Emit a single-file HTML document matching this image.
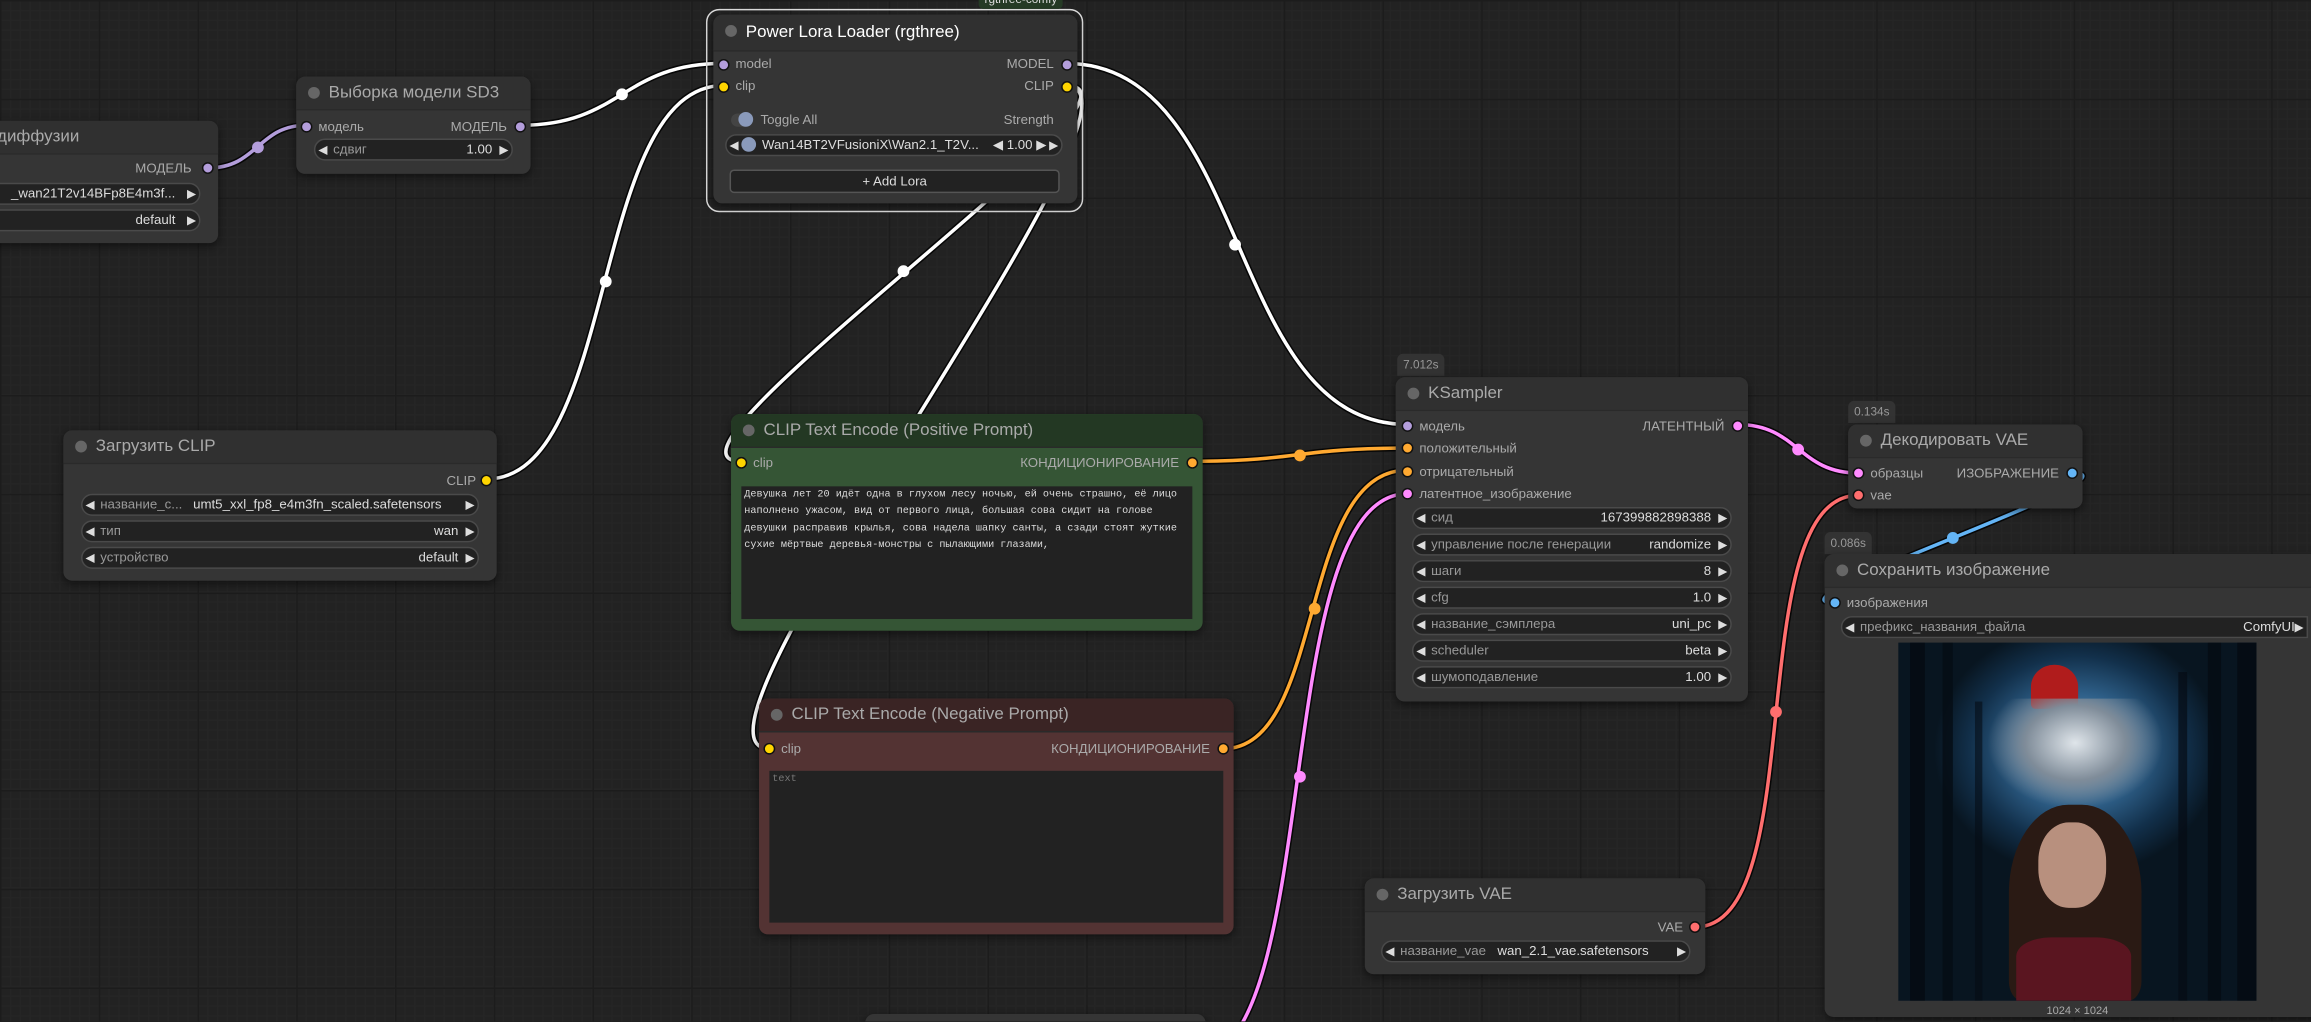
<!DOCTYPE html>
<html><head><meta charset="utf-8">
<style>
html,body{margin:0;padding:0;width:2311px;height:1022px;overflow:hidden;background:#202020}
#w{position:absolute;left:0;top:0;width:1568px;height:693px;transform:scale(1.47385);transform-origin:0 0;
background-color:#222;
background-image:linear-gradient(#1c1c1c 1px,transparent 1px),linear-gradient(90deg,#1c1c1c 1px,transparent 1px),linear-gradient(#252525 1px,transparent 1px),linear-gradient(90deg,#252525 1px,transparent 1px);
background-size:67px 67px,67px 67px,6.7px 6.7px,6.7px 6.7px;
font-family:"Liberation Sans","DejaVu Sans",sans-serif;overflow:hidden}
svg{position:absolute;left:0;top:0}
.n{position:absolute;background:#353535;border-radius:6px;box-shadow:0 2px 6px rgba(0,0,0,.5)}
.t{position:absolute;left:0;right:0;top:0;height:22px;background:#303030;border-radius:6px 6px 0 0;border-bottom:1px solid #2a2a2a;color:#aaa;font-size:11.5px;line-height:22px;padding-left:22px;white-space:nowrap}
.t:before{content:"";position:absolute;left:8px;top:7px;width:8px;height:8px;border-radius:50%;background:#666}
.s{position:absolute;font-size:9px;color:#aaa;white-space:nowrap;line-height:10px}
.d{position:absolute;width:6px;height:6px;border-radius:50%;border:1px solid #111}
.wd{position:absolute;height:13px;background:#222;border:1px solid #4a4a4a;border-radius:8px;font-size:9px;line-height:13px;color:#999;white-space:nowrap;overflow:hidden}
.wd .l{position:absolute;left:12px}
.wd .v{position:absolute;right:13px;color:#ddd}
.wd:before{content:"◀";position:absolute;left:2px;font-size:8px;color:#ddd}
.wd:after{content:"▶";position:absolute;right:2px;font-size:8px;color:#ddd}
.bd{position:absolute;background:#333;color:#999;font-size:8px;border-radius:4px 4px 0 0;padding:0 4px;line-height:15px;height:15px}
.ta{position:absolute;background:#222;font-family:"Liberation Mono","DejaVu Sans Mono",monospace;font-size:6.9px;line-height:11.3px;color:#ddd;padding:1px 2px;box-sizing:border-box}
.tr{position:absolute;background:#050c14}
</style></head><body><div id="w">
<svg width="1568" height="693" viewBox="0 0 1568 693" fill="none" stroke-linecap="round">
<g stroke="#000" stroke-width="4.5" opacity=".8">
<path d="M141,114 C175,114 175,85 208,85"/>
<path d="M353,85 C422,85 422,43 491,43"/>
<path d="M330,325 C420,325 400,58 491,58"/>
<path d="M723,43 C850,43 830,288 955,288"/>
<path d="M723,58 C800,58 426,313 503,313"/>
<path d="M723,58 C800,58 445,508 522,508"/>
<path d="M809,313 C880,313 880,304 955,304"/>
<path d="M830,508 C900,508 880,319 955,319"/>
<path d="M1179,288 C1220,288 1220,321 1261,321"/>
<path d="M809,719 C900,719 860,335 955,335"/>
<path d="M1150,629 C1230,629 1180,336 1261,336"/>
<path d="M1406,321 C1460,321 1190,409 1245,409"/>
</g>
<g stroke-width="2.4">
<path stroke="#b39ddb" d="M141,114 C175,114 175,85 208,85"/>
<path stroke="#fff" d="M353,85 C422,85 422,43 491,43"/>
<path stroke="#fff" d="M330,325 C420,325 400,58 491,58"/>
<path stroke="#fff" d="M723,43 C850,43 830,288 955,288"/>
<path stroke="#fff" d="M723,58 C800,58 426,313 503,313"/>
<path stroke="#fff" d="M723,58 C800,58 445,508 522,508"/>
<path stroke="#ffa931" d="M809,313 C880,313 880,304 955,304"/>
<path stroke="#ffa931" d="M830,508 C900,508 880,319 955,319"/>
<path stroke="#ff8aff" d="M1179,288 C1220,288 1220,321 1261,321"/>
<path stroke="#ff8aff" d="M809,719 C900,719 860,335 955,335"/>
<path stroke="#ff6e6e" d="M1150,629 C1230,629 1180,336 1261,336"/>
<path stroke="#64b5f6" d="M1406,321 C1460,321 1190,409 1245,409"/>
</g>
<g stroke="none">
<circle cx="175" cy="100" r="4" fill="#b39ddb"/><circle cx="422" cy="64" r="4" fill="#fff"/>
<circle cx="411" cy="191" r="4" fill="#fff"/><circle cx="838" cy="166" r="4" fill="#fff"/>
<circle cx="613" cy="184" r="4" fill="#fff"/><circle cx="882" cy="309" r="4" fill="#ffa931"/>
<circle cx="892" cy="413" r="4" fill="#ffa931"/><circle cx="1220" cy="305" r="4" fill="#ff8aff"/>
<circle cx="882" cy="527" r="4" fill="#ff8aff"/><circle cx="1205" cy="483" r="4" fill="#ff6e6e"/>
<circle cx="1325" cy="365" r="4" fill="#64b5f6"/>
</g></svg>

<div class="n" style="left:-20px;top:82px;width:168px;height:83px"><div class="t" style="padding-left:18px">диффузии</div>
<div class="s" style="right:18px;top:27px">МОДЕЛЬ</div><div class="d" style="background:#b39ddb;right:3px;top:28px"></div>
<div class="wd" style="left:-10px;right:12px;top:42px"><span class="v" style="right:16px">_wan21T2v14BFp8E4m3f...</span></div>
<div class="wd" style="left:-10px;right:12px;top:60px"><span class="v" style="right:16px">default</span></div></div>

<div class="n" style="left:201px;top:52px;width:159px;height:66px"><div class="t">Выборка модели SD3</div>
<div class="s" style="left:15px;top:29px">модель</div><div class="d" style="background:#b39ddb;left:3px;top:30px"></div>
<div class="s" style="right:16px;top:29px">МОДЕЛЬ</div><div class="d" style="background:#b39ddb;right:3px;top:30px"></div>
<div class="wd" style="left:12px;right:12px;top:42px"><span class="l">сдвиг</span><span class="v">1.00</span></div></div>

<div style="position:absolute;left:479px;top:6px;width:254px;height:136px;border:1px solid #ddd;border-radius:9px"></div>
<div style="position:absolute;left:664px;top:-6px;height:12px;padding:0 4px;background:#253a25;color:#ddd;font-size:8px;line-height:12px;border-radius:3px">rgthree-comfy</div>
<div class="n" style="left:484px;top:10px;width:247px;height:128px"><div class="t" style="color:#fff;height:24px;line-height:24px">Power Lora Loader (rgthree)</div>
<div class="s" style="left:15px;top:28px">model</div><div class="d" style="background:#b39ddb;left:3px;top:30px"></div>
<div class="s" style="left:15px;top:43px">clip</div><div class="d" style="background:#ffd500;left:3px;top:45px"></div>
<div class="s" style="right:16px;top:28px">MODEL</div><div class="d" style="background:#b39ddb;right:3px;top:30px"></div>
<div class="s" style="right:16px;top:43px">CLIP</div><div class="d" style="background:#ffd500;right:3px;top:45px"></div>
<div style="position:absolute;left:12px;top:67px;width:14px;height:9px;border-radius:5px;background:#444"></div><div style="position:absolute;left:17px;top:66px;width:10px;height:10px;border-radius:50%;background:#8a9abb"></div>
<div class="s" style="left:32px;top:66px">Toggle All</div><div class="s" style="right:16px;top:66px">Strength</div>
<div class="wd" style="left:8px;right:10px;top:81px;color:#ddd"><span style="position:absolute;left:10px;top:1px;width:10px;height:10px;border-radius:50%;background:#8a9abb"></span><span style="position:absolute;left:24px">Wan14BT2VFusioniX\Wan2.1_T2V...</span><span class="v" style="right:10px">◀ 1.00 ▶</span></div>
<div style="position:absolute;left:11px;right:12px;top:105px;height:14px;border:1px solid #555;background:#222;border-radius:3px;color:#ddd;font-size:9px;text-align:center;line-height:14px">+ Add Lora</div></div>

<div class="n" style="left:43px;top:292px;width:294px;height:102px"><div class="t">Загрузить CLIP</div>
<div class="s" style="right:14px;top:29px">CLIP</div><div class="d" style="background:#ffd500;right:3px;top:30px"></div>
<div class="wd" style="left:12px;right:12px;top:43px"><span class="l">название_с...</span><span class="l" style="left:75px;color:#ddd">umt5_xxl_fp8_e4m3fn_scaled.safetensors</span></div>
<div class="wd" style="left:12px;right:12px;top:61px"><span class="l">тип</span><span class="v">wan</span></div>
<div class="wd" style="left:12px;right:12px;top:79px"><span class="l">устройство</span><span class="v">default</span></div></div>

<div class="n" style="left:496px;top:281px;width:320px;height:147px;background:#355535"><div class="t" style="background:#233823">CLIP Text Encode (Positive Prompt)</div>
<div class="s" style="left:15px;top:28px">clip</div><div class="d" style="background:#ffd500;left:3px;top:29px"></div>
<div class="s" style="right:16px;top:28px">КОНДИЦИОНИРОВАНИЕ</div><div class="d" style="background:#ffa931;right:3px;top:29px"></div>
<div class="ta" style="left:7px;top:49px;width:306px;height:90px">Девушка лет 20 идёт одна в глухом лесу ночью, ей очень страшно, её лицо наполнено ужасом, вид от первого лица, большая сова сидит на голове девушки расправив крылья, сова надела шапку санты, а сзади стоят жуткие сухие мёртвые деревья-монстры с пылающими глазами,</div></div>

<div class="n" style="left:515px;top:474px;width:322px;height:160px;background:#533333"><div class="t" style="background:#3a2424">CLIP Text Encode (Negative Prompt)</div>
<div class="s" style="left:15px;top:29px">clip</div><div class="d" style="background:#ffd500;left:3px;top:30px"></div>
<div class="s" style="right:16px;top:29px">КОНДИЦИОНИРОВАНИЕ</div><div class="d" style="background:#ffa931;right:3px;top:30px"></div>
<div class="ta" style="left:7px;top:49px;width:308px;height:103px;color:#777">text</div></div>

<div class="bd" style="left:948px;top:240px">7.012s</div>
<div class="n" style="left:947px;top:256px;width:239px;height:220px"><div class="t">KSampler</div>
<div class="s" style="left:16px;top:28px">модель</div><div class="d" style="background:#b39ddb;left:4px;top:29px"></div>
<div class="s" style="left:16px;top:43px">положительный</div><div class="d" style="background:#ffa931;left:4px;top:44px"></div>
<div class="s" style="left:16px;top:59px">отрицательный</div><div class="d" style="background:#ffa931;left:4px;top:60px"></div>
<div class="s" style="left:16px;top:74px">латентное_изображение</div><div class="d" style="background:#ff8aff;left:4px;top:75px"></div>
<div class="s" style="right:16px;top:28px">ЛАТЕНТНЫЙ</div><div class="d" style="background:#ff8aff;right:3px;top:29px"></div>
<div class="wd" style="left:11px;right:11px;top:88px"><span class="l">сид</span><span class="v">167399882898388</span></div>
<div class="wd" style="left:11px;right:11px;top:106px"><span class="l">управление после генерации</span><span class="v">randomize</span></div>
<div class="wd" style="left:11px;right:11px;top:124px"><span class="l">шаги</span><span class="v">8</span></div>
<div class="wd" style="left:11px;right:11px;top:142px"><span class="l">cfg</span><span class="v">1.0</span></div>
<div class="wd" style="left:11px;right:11px;top:160px"><span class="l">название_сэмплера</span><span class="v">uni_pc</span></div>
<div class="wd" style="left:11px;right:11px;top:178px"><span class="l">scheduler</span><span class="v">beta</span></div>
<div class="wd" style="left:11px;right:11px;top:196px"><span class="l">шумоподавление</span><span class="v">1.00</span></div></div>

<div class="bd" style="left:1254px;top:272px">0.134s</div>
<div class="n" style="left:1254px;top:288px;width:159px;height:57px"><div class="t">Декодировать VAE</div>
<div class="s" style="left:15px;top:28px">образцы</div><div class="d" style="background:#ff8aff;left:3px;top:29px"></div>
<div class="s" style="left:15px;top:43px">vae</div><div class="d" style="background:#ff6e6e;left:3px;top:44px"></div>
<div class="s" style="right:16px;top:28px">ИЗОБРАЖЕНИЕ</div><div class="d" style="background:#64b5f6;right:3px;top:29px"></div></div>

<div class="n" style="left:926px;top:596px;width:231px;height:65px"><div class="t">Загрузить VAE</div>
<div class="s" style="right:15px;top:28px">VAE</div><div class="d" style="background:#ff6e6e;right:3px;top:29px"></div>
<div class="wd" style="left:11px;right:10px;top:42px"><span class="l">название_vae</span><span class="l" style="left:78px;color:#ddd">wan_2.1_vae.safetensors</span></div></div>

<div class="bd" style="left:1238px;top:361px">0.086s</div>
<div class="n" style="left:1238px;top:376px;width:340px;height:314px"><div class="t">Сохранить изображение</div>
<div class="s" style="left:15px;top:28px">изображения</div><div class="d" style="background:#64b5f6;left:3px;top:29px"></div>
<div class="wd" style="left:11px;right:12px;top:42px;border-radius:8px 0 0 8px"><span class="l">префикс_названия_файла</span><span class="v" style="right:8px">ComfyUI</span></div>
<div style="position:absolute;left:50px;top:60px;width:243px;height:243px;overflow:hidden;background:radial-gradient(ellipse 40% 35% at 50% 30%,#6fa3c8,#2e5f88 45%,#12304b 75%,#081520)">
<div class="tr" style="left:8px;top:0;width:10px;height:243px"></div>
<div class="tr" style="left:30px;top:0;width:7px;height:243px;opacity:.8"></div>
<div class="tr" style="left:52px;top:40px;width:5px;height:203px;opacity:.6"></div>
<div class="tr" style="left:190px;top:20px;width:6px;height:223px;opacity:.7"></div>
<div class="tr" style="left:210px;top:0;width:9px;height:243px;opacity:.85"></div>
<div class="tr" style="left:230px;top:0;width:13px;height:243px"></div>
<div style="position:absolute;left:90px;top:15px;width:32px;height:30px;background:#b01c1c;border-radius:50% 50% 10% 10%"></div>
<div style="position:absolute;left:60px;top:38px;width:120px;height:75px;background:radial-gradient(ellipse at 50% 40%,#dfe5ea,#7f8c99 40%,rgba(40,50,60,0) 70%)"></div>
<div style="position:absolute;left:75px;top:110px;width:90px;height:133px;background:#2a1a14;border-radius:45% 45% 10% 10%"></div>
<div style="position:absolute;left:95px;top:122px;width:46px;height:58px;background:#b8907e;border-radius:45%"></div>
<div style="position:absolute;left:80px;top:200px;width:78px;height:43px;background:#5a1520;border-radius:30% 30% 0 0"></div>
</div>
<div class="s" style="left:0;width:343px;text-align:center;top:305px;font-size:7.5px">1024 × 1024</div></div>

<div class="n" style="left:587px;top:688px;width:231px;height:30px"></div>
</div></body></html>
